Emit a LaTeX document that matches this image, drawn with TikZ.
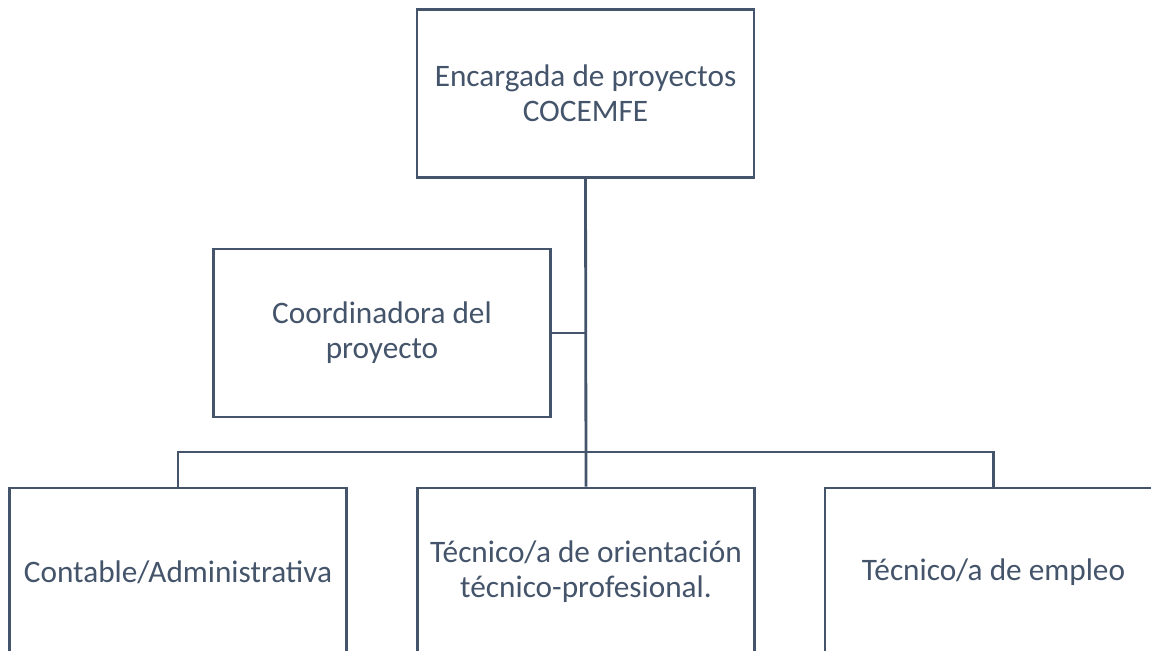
\documentclass[tikz,border=0pt]{standalone}
\usepackage{fontspec}
\setmainfont{Carlito}
\usepackage{tikz}
\definecolor{slate}{HTML}{44546A}

\tikzset{
  post/.style={draw=slate,line width=1.6pt,fill=white,text=slate,align=center,
    minimum width=6.74cm,minimum height=3.36cm,inner sep=0pt,
    font=\fontsize{17.8}{20}\selectfont},
  link/.style={draw=slate,line width=1.6pt}
}

\begin{document}
\begin{tikzpicture}[x=0.02cm,y=-0.02cm]
\useasboundingbox (0,0) rectangle (1151,651);
\clip (0,0) rectangle (1151,651);

\node[post] (jefa) at (585.5,93.5) {Encargada de proyectos\\COCEMFE};
\node[post] (coord) at (382,333) {Coordinadora del\\proyecto};
\node[post] (conta) at (178,572) {Contable/Administrativa};
\node[post] (orient) at (586,572) {Técnico/a de orientación\\técnico-profesional.};
\node[post] (empleo) at (993.5,572) {Técnico/a de empleo};
\coordinate (bus) at (586,452);

\draw[link] (jefa.south)--(orient.north);
\draw[link] (coord.east)--(jefa.south |- coord.east);
\draw[link] (conta.north)--(conta.north |- bus)--(empleo.north |- bus)--(empleo.north);
\end{tikzpicture}
\end{document}
